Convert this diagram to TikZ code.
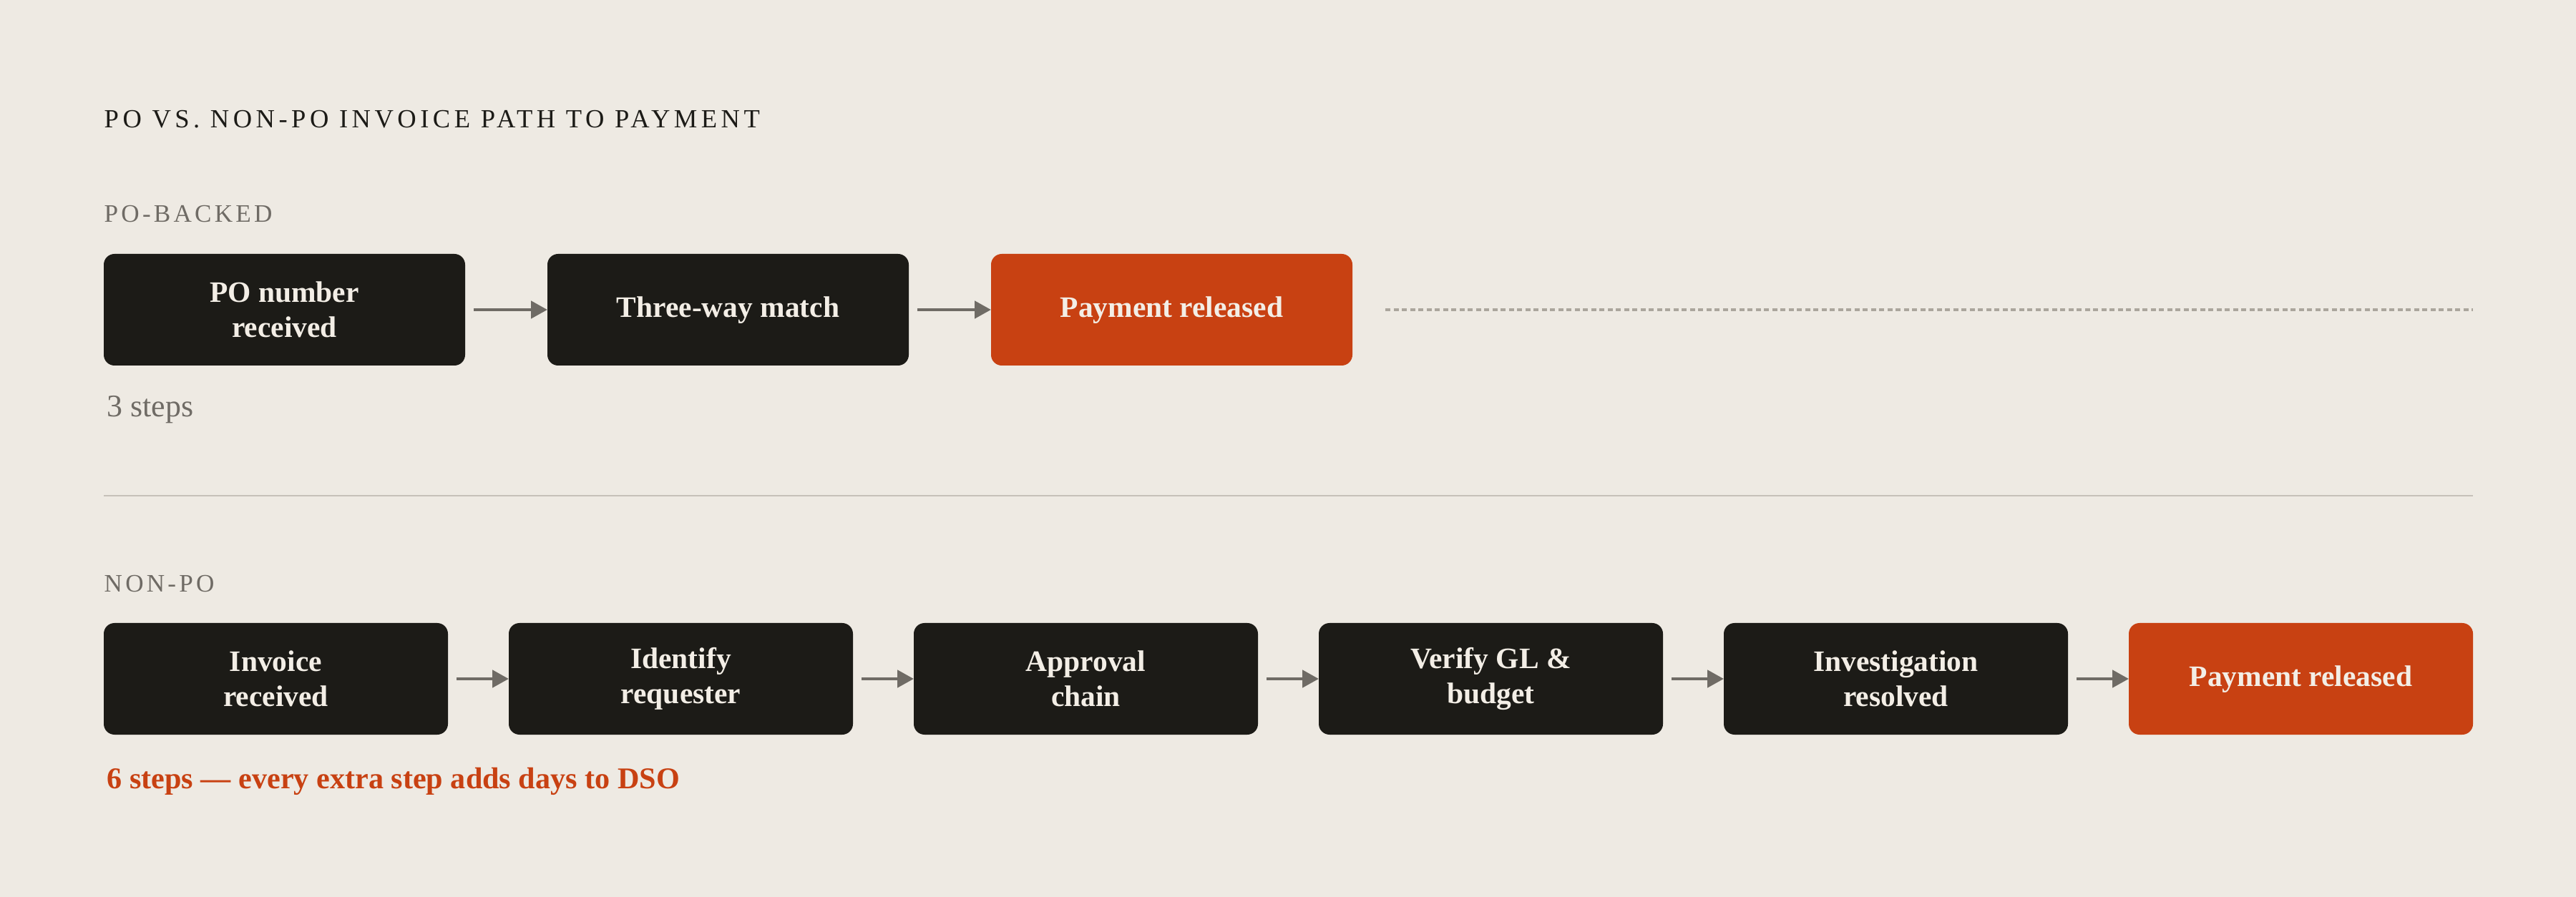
\documentclass[tikz,border=0pt]{standalone}
\usepackage{fontspec}
\setmainfont{Liberation Serif}
\newfontfamily\trackedfont[LetterSpace=12]{Liberation Serif}
\newfontfamily\titlefont[LetterSpace=15]{Liberation Serif}
\usetikzlibrary{arrows.meta, positioning}

\definecolor{bgcream}{HTML}{EEEAE3}
\definecolor{inkdark}{HTML}{1C1B17}
\definecolor{rust}{HTML}{C84112}
\definecolor{greytext}{HTML}{6F6B65}
\definecolor{dashgrey}{HTML}{ABA69D}
\definecolor{rulegrey}{HTML}{C6C1B9}
\definecolor{boxtext}{HTML}{F3EEE6}

\begin{document}
\begin{tikzpicture}[
    node distance=1.15cm,
    stepbox/.style={rectangle, rounded corners=0.15cm, fill=inkdark, text=boxtext, align=center, minimum height=1.56cm, minimum width=5.05cm, inner sep=0pt, outer sep=0pt, font=\fontsize{11.8}{13.8}\selectfont\bfseries},
    paybox/.style={stepbox, fill=rust},
    narrow/.style={minimum width=4.81cm},
    oneline/.style={text height=0.62em, text depth=0pt},
    header/.style={anchor=west, inner sep=0pt, font=\fontsize{10.4}{12}\selectfont\titlefont, text=inkdark},
    lane/.style={anchor=west, inner sep=0pt, font=\fontsize{10}{12}\selectfont\trackedfont, text=greytext},
    note/.style={anchor=base west, inner sep=0pt, font=\fontsize{12.5}{14}\selectfont},
    arrow/.style={draw=greytext, line width=1.4pt, -{Triangle[length=0.23cm, width=0.24cm]}, shorten <=0.12cm},
    dashline/.style={draw=dashgrey, line width=1pt, dash pattern=on 0.07cm off 0.045cm},
    rule/.style={draw=rulegrey, line width=0.8pt}
]

% fond et cadre
\fill[bgcream] (0,0) rectangle (36,-12.54);
\useasboundingbox (0,0) rectangle (36,-12.54);

% titre
\node (title) [header] at (1.45,-1.67) {PO VS. NON-PO INVOICE PATH TO PAYMENT};

% ligne PO
\node (poLabel) [lane] at (1.45,-2.99) {PO-BACKED};
\node (poNum) [stepbox, anchor=west] at (1.45,-4.33) {PO number\\received};
\node (poMatch) [stepbox, oneline, right=of poNum] {Three-way match};
\node (poPay) [paybox, oneline, right=of poMatch] {Payment released};
\coordinate (dashEnd) at (34.56,-4.33);
\node (poNote) [note, text=greytext] at (1.49,-5.83) {3 steps};

\draw [arrow] (poNum) -- (poMatch);
\draw [arrow] (poMatch) -- (poPay);
\draw [dashline, shorten <=0.46cm] (poPay.east) -- (dashEnd);

% separateur
\coordinate (ruleL) at (1.45,-6.93);
\coordinate (ruleR) at (34.56,-6.93);
\draw [rule] (ruleL) -- (ruleR);

% ligne non-PO
\begin{scope}[node distance=0.85cm]
\node (npLabel) [lane] at (1.45,-8.16) {NON-PO};
\node (npInv) [stepbox, narrow, anchor=west] at (1.45,-9.49) {Invoice\\received};
\node (npReq) [stepbox, narrow, right=of npInv] {Identify\\requester};
\node (npAppr) [stepbox, narrow, right=of npReq] {Approval\\chain};
\node (npGL) [stepbox, narrow, right=of npAppr] {Verify GL \&\\budget};
\node (npInvest) [stepbox, narrow, right=of npGL] {Investigation\\resolved};
\node (npPay) [paybox, narrow, oneline, right=of npInvest] {Payment released};
\node (npNote) [note, text=rust, font=\fontsize{12}{14}\selectfont\bfseries] at (1.49,-11.02) {6 steps — every extra step adds days to DSO};
\end{scope}

\draw [arrow] (npInv) -- (npReq);
\draw [arrow] (npReq) -- (npAppr);
\draw [arrow] (npAppr) -- (npGL);
\draw [arrow] (npGL) -- (npInvest);
\draw [arrow] (npInvest) -- (npPay);

\end{tikzpicture}
\end{document}
